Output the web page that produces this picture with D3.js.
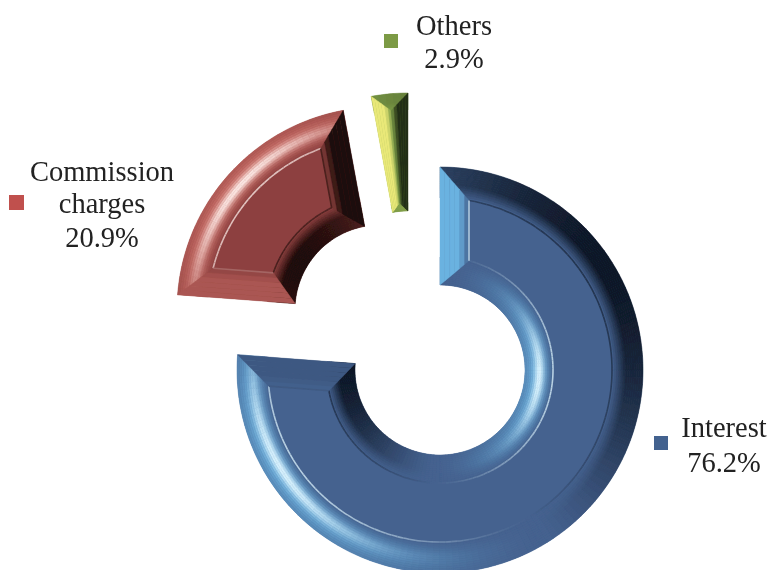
<!DOCTYPE html>
<html><head><meta charset="utf-8">
<script src="https://d3js.org/d3.v7.min.js"></script>
<style>html,body{margin:0;padding:0;background:#fff}svg{display:block}text{font-family:"Liberation Serif",serif;font-size:28.5px;fill:#222;text-anchor:middle}</style>
</head><body><svg id="c" width="768" height="570"></svg>
<script>
// data
const categories = ["Interest", "Commission charges", "Others"];
const values = [76.2, 20.9, 2.9];
const valueLabels = ["76.2%", "20.9%", "2.9%"];
// layout and style (not data)
const pieCenter = [440, 370];
const sliceShift = [[0, 0], [-60, -60], [-32, -74]];
const outerRadius = 203, innerRadius = 85;
const outerBevel = 31, innerBevel = 28, capBevel = 29;
const lightOuterDeg = [238, 312, 250];
const lightInnerDeg = [275, 300, 250];
const capTone = [[0.95, -0.12], [0.42, -0.97], [0.92, -0.97]];
const palettes = [
  {base:"#45628f", light:"#6db6e4", spec:"#dff6ff", dark:"#0e1726"},
  {base:"#8d4140", light:"#d2736b", spec:"#fff0ec", dark:"#1c0908"},
  {base:"#7b9a47", light:"#f3ef7c", spec:"#f3ef7c", dark:"#202c14"}
];
const legendBoxes = [[654,436,14,"#43628f"],[9,195,15,"#c0504d"],[384,34,14,"#7c9a45"]];
const labelLines = [
  {x:724,lines:[["Interest",437],["76.2%",472]]},
  {x:102,lines:[["Commission",181],["charges",213],["20.9%",247]]},
  {x:454,lines:[["Others",35],["2.9%",68]]}
];

const svg = d3.select("#c");
const defs = svg.append("defs");
defs.append("filter").attr("id","soft").attr("x","-5%").attr("y","-5%").attr("width","110%").attr("height","110%")
  .append("feGaussianBlur").attr("stdDeviation",0.7);
const root = svg.append("g").attr("filter","url(#soft)");

const pie = d3.pie().sort(null).value(d=>d).startAngle(0).endAngle(2*Math.PI);
const arcs = pie(values);
const arcGen = d3.arc();
const pt = (r,a)=>[r*Math.sin(a), -r*Math.cos(a)];
const lerp = (p,q,t)=>[p[0]+(q[0]-p[0])*t, p[1]+(q[1]-p[1])*t];
const lineGen = d3.line();

function shader(pal){
  const toDark = d3.interpolateRgb(pal.base, pal.dark);
  const toLight = d3.interpolateRgb(pal.base, pal.light);
  return (d,t)=>{
    let p = Math.min(1, t/0.45);
    if (d>0) p *= 1-0.45*Math.max(0,(t-0.65)/0.35);
    const mag = d<0 ? Math.pow(-d,1.3) : Math.pow(d,1.8)*0.9;
    const v = mag*p;
    const c = d<0 ? toDark(v) : toLight(v);
    const s = Math.pow(Math.max(d,0),7)*Math.exp(-Math.pow((t-0.5)/0.17,2))*0.95;
    return d3.interpolateRgb(c, pal.spec)(s);
  };
}

arcs.forEach((s,i)=>{
  const g = root.append("g").attr("transform",`translate(${pieCenter[0]+sliceShift[i][0]},${pieCenter[1]+sliceShift[i][1]})`);
  const pal = palettes[i], shade = shader(pal);
  const LO = lightOuterDeg[i]*Math.PI/180, LI = lightInnerDeg[i]*Math.PI/180;
  const a0 = s.startAngle, a1 = s.endAngle, h = (a1-a0)/2, sh = Math.sin(h);
  const bo = Math.min(outerBevel, outerRadius*sh/(1+sh));
  const bi = Math.min(innerBevel, innerRadius*sh/(1-sh));
  const rfo = outerRadius-bo, rfi = innerRadius+bi;

  g.append("path").attr("d",arcGen({innerRadius,outerRadius,startAngle:a0,endAngle:a1})).attr("fill",pal.base);

  const steps = Math.max(3, Math.round((a1-a0)/(2*Math.PI/180)));
  const rings = 14;
  const band = (rA,rB,flip)=>{
    const L = flip?LI:LO;
    const cells = [];
    d3.range(rings).forEach(k=>{
      const t = (k+0.5)/rings;
      const r0 = rA+(rB-rA)*k/rings, r1 = rA+(rB-rA)*(k+1)/rings;
      d3.range(steps).forEach(j=>{
        const b0 = a0+(a1-a0)*j/steps, b1 = a0+(a1-a0)*(j+1)/steps;
        const mid = (b0+b1)/2;
        cells.push({r0,r1,b0,b1,c:shade(Math.cos(mid+(flip?Math.PI:0)-L),t)});
      });
    });
    g.append("g").selectAll("path").data(cells).join("path")
      .attr("d",c=>arcGen({innerRadius:Math.min(c.r0,c.r1),outerRadius:Math.max(c.r0,c.r1),startAngle:c.b0,endAngle:c.b1}))
      .attr("fill",c=>c.c).attr("stroke",c=>c.c).attr("stroke-width",0.5);
  };
  band(rfo,outerRadius,false);
  band(rfi,innerRadius,true);

  // mitred end caps
  const cap = (edge,sign,tone)=>{
    const off = r=>Math.min(Math.asin(Math.min(1,capBevel/r)), h);
    const Fo = pt(rfo, edge+sign*off(rfo)), Fi = pt(rfi, edge+sign*off(rfi));
    const Po = pt(outerRadius,edge), Pi = pt(innerRadius,edge);
    const toDark = d3.interpolateRgb(pal.base,pal.dark), toLight = d3.interpolateRgb(pal.base,pal.light);
    const c0 = tone<0 ? toDark(Math.abs(tone)) : toLight(Math.abs(tone));
    const n = 6;
    d3.range(n).forEach(k=>{
      const t0=k/n,t1=(k+1)/n;
      const c = d3.interpolateRgb(pal.base,c0)(Math.min(1,(k+0.5)/n/0.35));
      g.append("path").attr("d",lineGen([lerp(Fo,Po,t0),lerp(Fo,Po,t1),lerp(Fi,Pi,t1),lerp(Fi,Pi,t0)])+"Z")
        .attr("fill",c).attr("stroke",c).attr("stroke-width",0.4);
    });
    return [Fo,Fi,tone];
  };
  const capA = cap(a0,1,capTone[i][0]), capB = cap(a1,-1,capTone[i][1]);

  // flat face and its thin edge lines
  if (h > 10*Math.PI/180){
    const ap = Math.asin(capBevel/outerRadius);
    g.append("path").attr("d",arcGen({innerRadius:rfi,outerRadius:rfo,startAngle:a0,endAngle:a1,padAngle:2*ap,padRadius:outerRadius}))
      .attr("fill",pal.base);
    const edgeColor = d=> d>0 ? d3.interpolateRgb(pal.base,pal.spec)(Math.pow(d,1.5)*0.75) : d3.interpolateRgb(pal.base,pal.dark)(Math.pow(-d,0.8)*0.6);
    const rim = (r,flip)=>{
      const b0=a0+Math.asin(capBevel/r), b1=a1-Math.asin(capBevel/r);
      const n=Math.round((b1-b0)/(2*Math.PI/180));
      d3.range(n).forEach(j=>{
        const x0=b0+(b1-b0)*j/n,x1=b0+(b1-b0)*(j+1)/n;
        const L = flip?LI:LO;
        g.append("path").attr("d",arcGen({innerRadius:r-0.8,outerRadius:r+0.8,startAngle:x0,endAngle:x1}))
          .attr("fill",edgeColor(Math.cos((x0+x1)/2+(flip?Math.PI:0)-L)));
      });
    };
    rim(rfo,false); rim(rfi,true);
    [capA,capB].forEach(([F1,F2,tone])=>{
      g.append("path").attr("d",lineGen([F1,F2])).attr("fill","none")
        .attr("stroke",edgeColor(tone)).attr("stroke-width",1.6);
    });
  }
});

svg.append("g").selectAll("rect").data(legendBoxes).join("rect")
  .attr("x",d=>d[0]).attr("y",d=>d[1]).attr("width",d=>d[2]).attr("height",d=>d[2]).attr("fill",d=>d[3]);
labelLines.forEach(l=>{
  svg.append("g").selectAll("text").data(l.lines).join("text")
    .attr("x",l.x).attr("y",d=>d[1]).text(d=>d[0]);
});
</script></body></html>
